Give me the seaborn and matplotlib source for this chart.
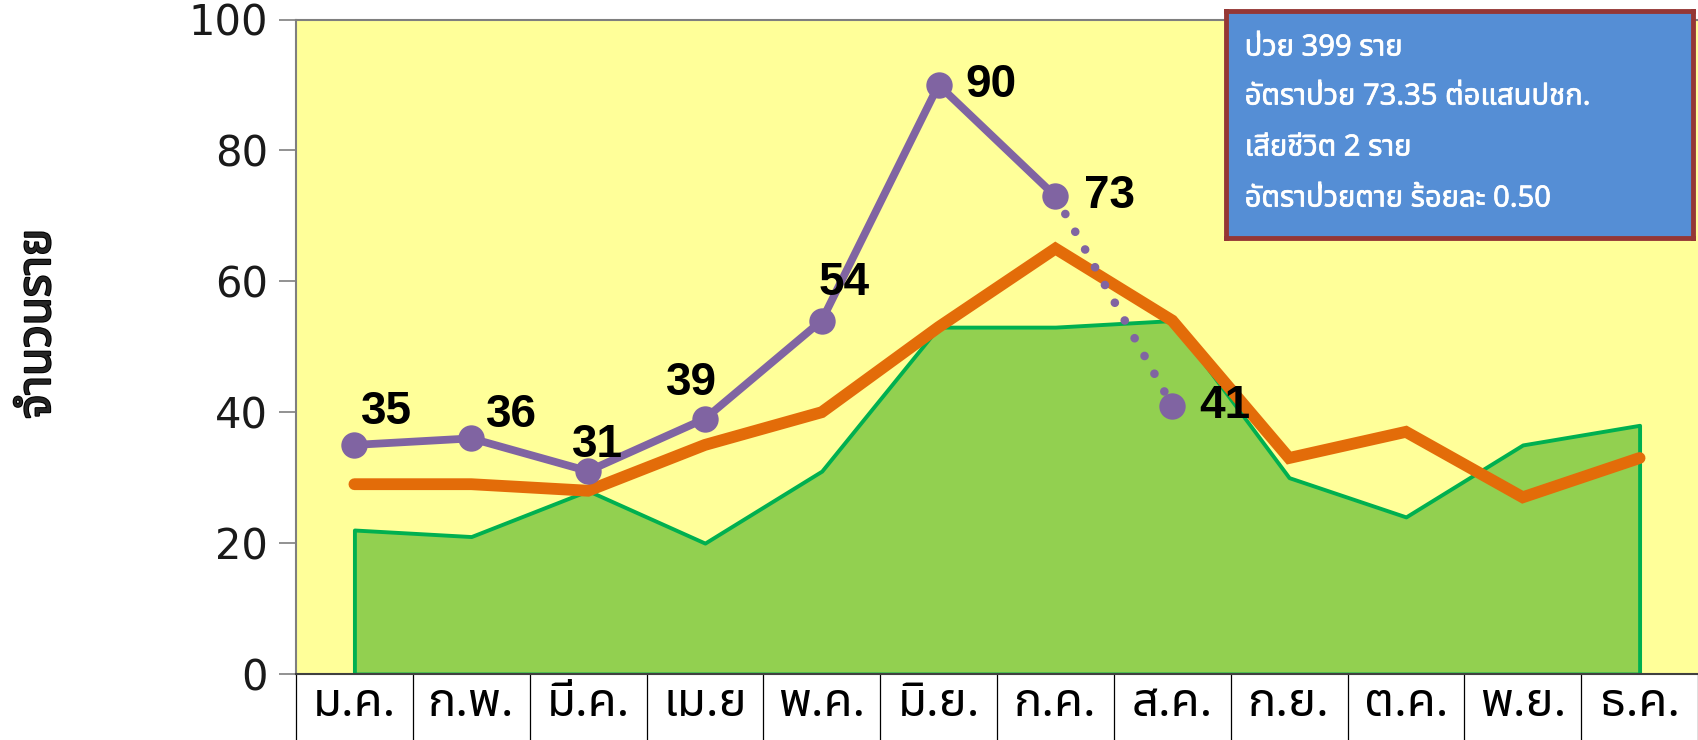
import numpy as np
import pandas as pd
import matplotlib
matplotlib.use("Agg")
import matplotlib.pyplot as plt
import matplotlib.transforms as mtransforms
import matplotlib.patheffects as pe
from matplotlib import font_manager as fm
import seaborn as sns

# ---------------- data ----------------
months = ["ม.ค.", "ก.พ.", "มี.ค.", "เม.ย", "พ.ค.", "มิ.ย.", "ก.ค.", "ส.ค.", "ก.ย.", "ต.ค.", "พ.ย.", "ธ.ค."]
median_area = [22, 21, 28, 20, 31, 53, 53, 54, 30, 24, 35, 38]
prev_year = [29, 29, 28, 35, 40, 53, 65, 54, 33, 37, 27, 33]
current_solid = [35, 36, 31, 39, 54, 90, 73]
current_dotted = [73, 41]
point_labels = ["35", "36", "31", "39", "54", "90", "73", "41"]
yticks = [0, 20, 40, 60, 80, 100]
ylabel_text = "จำนวนราย"
info_lines = ["ป่วย 399 ราย", "อัตราป่วย 73.35 ต่อแสนปชก.", "เสียชีวิต 2 ราย", "อัตราป่วยตาย ร้อยละ 0.50"]


# ---------------- fonts ----------------
def find_thai_family():
    try:
        from fontTools.ttLib import TTFont
    except Exception:
        return None
    seen = {}
    for f in fm.fontManager.ttflist:
        if f.name in seen:
            continue
        try:
            kw = {"fontNumber": 0} if f.fname.lower().endswith((".ttc", ".otc")) else {}
            tt = TTFont(f.fname, lazy=True, **kw)
            cmap = tt.getBestCmap() or {}
            ok = 0x0E01 in cmap and 0x0E32 in cmap
            tt.close()
        except Exception:
            ok = False
        seen[f.name] = ok
    prefs = ["Noto Sans Thai", "Noto Sans Thai UI", "Tahoma", "Leelawadee UI", "Garuda", "Loma",
             "Sarabun", "TH Sarabun New", "Norasi", "Kinnari", "Waree", "Umpush"]
    for p in prefs:
        if seen.get(p):
            return p
    for name, ok in seen.items():
        if ok:
            return name
    return None


names = {f.name for f in fm.fontManager.ttflist}
thai = find_thai_family()
thai_fam = ([thai] if thai else []) + ["DejaVu Sans"]
num_fam = ["Liberation Sans Narrow"] if "Liberation Sans Narrow" in names else ["Liberation Sans", "DejaVu Sans"]

sns.set_style("white")
plt.rcParams["font.family"] = ["DejaVu Sans"]

# ---------------- figure ----------------
fig = plt.figure(figsize=(16.98, 7.40), dpi=100)
ax = fig.add_axes([296 / 1698, 1 - 674 / 740, 1 - 296 / 1698, (674 - 19.5) / 740])
ax.set_facecolor("#FFFF99")

x = np.arange(len(months))

# green area
ax.fill_between(x, 0, median_area, facecolor="#92D050", edgecolor="#00B050", linewidth=2.8, zorder=2)

# orange line
sns.lineplot(x=x, y=prev_year, ax=ax, color="#E36C09", linewidth=8.5, solid_capstyle="round",
             solid_joinstyle="miter", zorder=3)

# purple solid line with markers
xs = x[:len(current_solid)]
sns.lineplot(x=xs, y=current_solid, ax=ax, color="#8064A2", linewidth=5.6, marker="o",
             markersize=19, markeredgewidth=0, zorder=4)
# dotted part
xd = x[len(current_solid) - 1:len(current_solid) - 1 + len(current_dotted)]
sns.lineplot(x=xd, y=current_dotted, ax=ax, color="#8064A2", linewidth=6.2,
             linestyle=(0, (0.01, 2.35)), dash_capstyle="round", zorder=4)
sns.scatterplot(x=xd[-1:], y=current_dotted[-1:], ax=ax, color="#8064A2", s=19 ** 2,
                linewidth=0, zorder=5)

# data labels
all_x = list(xs) + [xd[-1]]
all_y = list(current_solid) + [current_dotted[-1]]
offsets = [(23, 24), (29, 17), (7, 19), (-10, 26), (16, 27), (38, 0), (39, 0), (38, 0)]
for xi, yi, lab, off in zip(all_x, all_y, point_labels, offsets):
    ax.annotate(lab, (xi, yi), xytext=off, textcoords="offset points", ha="center", va="center",
                fontsize=33, fontweight="bold", family=num_fam, color="black", zorder=6)

# axes
ax.set_xlim(-0.5, len(months) - 0.5)
ax.set_ylim(0, 100)
ax.set_yticks(yticks)
ax.set_yticklabels([str(v) for v in yticks], fontsize=30, color="#1a1a1a")
ax.tick_params(axis="y", direction="out", length=12, width=1.2, color="#7f7f7f", pad=8, left=True)
ax.set_xticks(x)
ax.set_xticklabels(months, family=thai_fam, fontsize=34, color="black")
ax.tick_params(axis="x", length=0, pad=4)
for s in ["left", "top", "bottom"]:
    ax.spines[s].set_color("#7f7f7f")
    ax.spines[s].set_linewidth(1.5)
ax.spines["right"].set_visible(False)
ax.spines["bottom"].set_color("#404040")

# category separators below axis
trans = mtransforms.blended_transform_factory(ax.transData, ax.transAxes)
for b in np.arange(-0.5, len(months), 1.0):
    ax.plot([b, b], [0, -0.12], transform=trans, color="black", linewidth=0.9, clip_on=False, zorder=1)

ylab = ax.set_ylabel(ylabel_text, family=thai_fam, fontsize=33, fontweight="bold", va="center")
ylab.set_path_effects([pe.withStroke(linewidth=1.6, foreground="black")])
ax.yaxis.set_label_coords(-0.184, 0.535)

# info box
box_ax = fig.add_axes([1226 / 1698, 1 - 238 / 740, (1693 - 1226) / 1698, (238 - 11) / 740])
box_ax.set_xlim(0, 1)
box_ax.set_ylim(0, 1)
box_ax.set_facecolor("#558ED5")
box_ax.set_xticks([])
box_ax.set_yticks([])
for s in box_ax.spines.values():
    s.set_color("#953735")
    s.set_linewidth(3.5)
line_y = [1 - (48 - 11) / 227, 1 - (97 - 11) / 227, 1 - (148 - 11) / 227, 1 - (199 - 11) / 227]
for ly, t in zip(line_y, info_lines):
    box_ax.text(0.04, ly, t, color="white", fontsize=21, family=thai_fam, ha="left", va="center",
                path_effects=[pe.withStroke(linewidth=0.5, foreground="white")])

fig.savefig("out.png", dpi=100)
